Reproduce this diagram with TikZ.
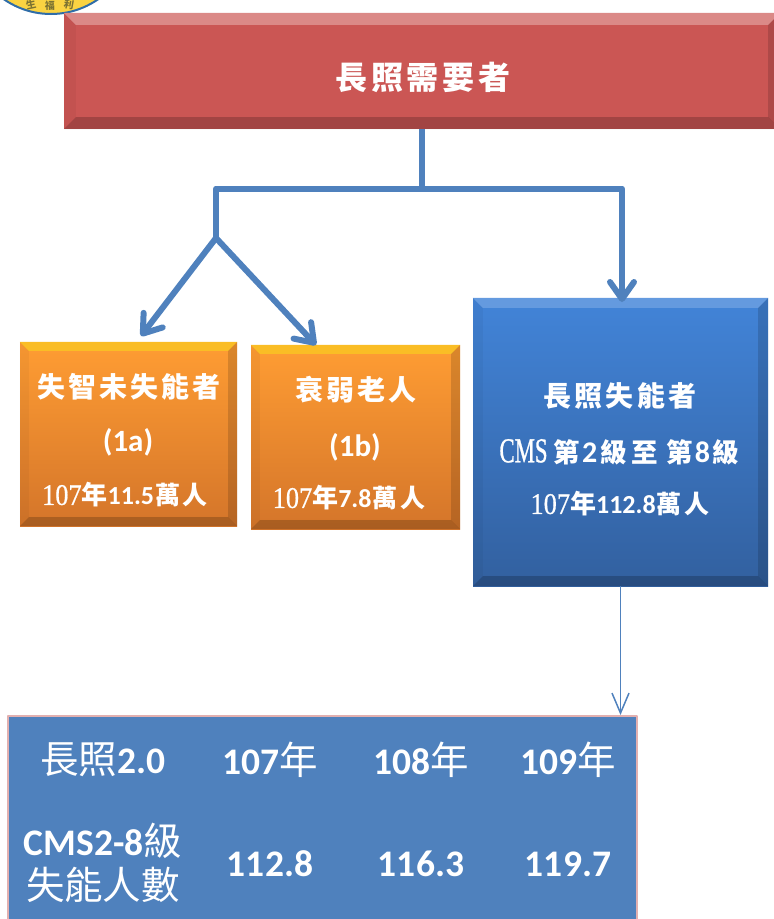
\documentclass[tikz,border=0pt]{standalone}
\usepackage{fontspec}
\setmainfont{Carlito}
\newfontfamily\cjkwide[LetterSpace=11]{Noto Sans CJK TC}
\newfontfamily\cjk{Noto Sans CJK TC}
\newfontfamily\numf[FakeStretch=.88,FakeBold=.6]{Liberation Serif}
\newfontfamily\cmsf[FakeStretch=.65,FakeBold=.8]{Liberation Serif}
\usetikzlibrary{arrows.meta}
\definecolor{linkblue}{HTML}{4F81BD}
\definecolor{tabedge}{HTML}{E2B0B0}
\definecolor{emblemfill}{HTML}{FAD342}
\definecolor{emblemedge}{HTML}{2F6DA8}
\definecolor{emblemtext}{HTML}{7D7332}
\definecolor{redface}{HTML}{CB5654}
\definecolor{orangeA}{HTML}{FF9D33}
\definecolor{orangeB}{HTML}{D4752A}
\definecolor{blueA}{HTML}{4284D8}
\definecolor{blueB}{HTML}{32609F}
% trapezoid edges round a box: name, width, top colour
\newcommand{\bevel}[3]{
	\fill[#3] (#1.north west)--(#1.north east)--++(-#2,#2)--([shift={(#2,#2)}]#1.north west)--cycle;
	\fill[black,fill opacity=.04] (#1.north west)--(#1.south west)--++(#2,-#2)--([shift={(#2,#2)}]#1.north west)--cycle;
	\fill[black,fill opacity=.14] (#1.north east)--(#1.south east)--++(-#2,-#2)--([shift={(-#2,#2)}]#1.north east)--cycle;
	\fill[black,fill opacity=.2] (#1.south west)--(#1.south east)--++(-#2,-#2)--([shift={(#2,-#2)}]#1.south west)--cycle;
}
\tikzset{
	redbox/.style={inner sep=0,fill=redface},
	orangebox/.style={inner sep=0,top color=orangeA,bottom color=orangeB},
	bluebox/.style={inner sep=0,top color=blueA,bottom color=blueB},
	thick link/.style={draw=linkblue,line width=6pt},
	thin link/.style={draw=linkblue,line width=1.5pt},
	word/.style={text=white,inner sep=0},
	emblemword/.style={text=emblemtext,inner sep=0,font=\cjk\bfseries\fontsize{10}{10}\selectfont},
}
% one "107年 ... 萬人" line of a box
\newcommand{\countline}[1]{{\numf\mdseries\fontsize{30}{30}\selectfont 107}{\cjk\bfseries\fontsize{26}{26}\selectfont 年}{\bfseries\fontsize{26}{26}\selectfont #1}\hspace{1pt}{\cjkwide\bfseries\fontsize{25}{25}\selectfont 萬人}}
\begin{document}
\begin{tikzpicture}[x=1pt,y=-1pt,line join=round,>={Straight Barb[length=17pt,width=24pt,round]}]
	\useasboundingbox (0,0) rectangle (774,919);
	% emblem in the corner
	\begin{scope}
	\clip (0,0) rectangle (110,20);
	\filldraw[fill=emblemfill,draw=emblemedge,line width=2pt] (51,-68.6) circle (82.6);
	\node[emblemword,rotate=12] (embB) at (31,5) {生};
	\node[emblemword] (embC) at (50,5.5) {福};
	\node[emblemword,rotate=-10] (embD) at (69,5) {利};
	\end{scope}
	% boxes
	\node[redbox,minimum width=716pt,minimum height=116pt] (need) at (422,71) {};
	\bevel{need}{12}{white!30!redface}
	\node[orangebox,minimum width=217pt,minimum height=184pt] (boxa) at (128.5,434) {};
	\bevel{boxa}{9}{yellow!35!orangeA}
	\node[orangebox,minimum width=209pt,minimum height=184pt] (boxb) at (355.5,437) {};
	\bevel{boxb}{9}{yellow!35!orangeA}
	\node[bluebox,minimum width=295pt,minimum height=288pt] (boxc) at (620.5,442) {};
	\bevel{boxc}{10}{white!18!blueA}
	\node[inner sep=0,draw=tabedge,line width=2pt,fill=linkblue,minimum width=629pt,minimum height=260pt] (tab) at (322.5,846) {};
	% box texts
	\node[word,font=\cjkwide\bfseries\fontsize{32}{32}\selectfont] (needT) at (423,77) {長照需要者};
	\node[word,font=\cjkwide\bfseries\fontsize{28}{28}\selectfont] (a1) at (129,387) {失智未失能者};
	\node[word,font=\fontsize{31}{31}\selectfont\bfseries] (a2) at (128,442) {(1a)};
	\node[word] (a3) at (125,495) {\countline{11.5}};
	\node[word,font=\cjkwide\bfseries\fontsize{28}{28}\selectfont] (b1) at (356,390) {衰弱老人};
	\node[word,font=\fontsize{31}{31}\selectfont\bfseries] (b2) at (355,447) {(1b)};
	\node[word] (b3) at (349,498) {\countline{7.8}};
	\node[word,font=\cjkwide\bfseries\fontsize{28}{28}\selectfont] (c1) at (620,396) {長照失能者};
	\node[word,font=\bfseries] (c2) at (619.5,452) {{\cmsf\mdseries\fontsize{35}{35}\selectfont CMS}\hspace{6pt}{\cjk\fontsize{26.5}{26.5}\selectfont 第\hspace{2pt}{\rmfamily\fontsize{30}{30}\selectfont 2}\hspace{3pt}級\hspace{5pt}至\hspace{8pt}第\hspace{2pt}{\rmfamily\fontsize{30}{30}\selectfont 8}\hspace{3pt}級}};
	\node[word] (c3) at (620,504) {\countline{112.8}};
	% table texts
	\def\tabfont{\fontsize{37.5}{37.5}\selectfont\bfseries}
	\def\tabcjk{\cjk\mdseries\fontsize{38.5}{38.5}\selectfont}
	\node[word,font=\tabfont] (t11) at (103,760) {{\tabcjk 長照}2.0};
	\node[word,font=\tabfont] (t12) at (270,760) {107{\tabcjk 年}};
	\node[word,font=\tabfont] (t13) at (421,760) {108{\tabcjk 年}};
	\node[word,font=\tabfont] (t14) at (568,760) {109{\tabcjk 年}};
	\node[word,font=\tabfont] (t21a) at (103,841) {CMS2-8{\tabcjk 級}};
	\node[word,font=\tabcjk] (t21b) at (103,885) {失能人數};
	\node[word,font=\tabfont] (t22) at (270,864) {112.8};
	\node[word,font=\tabfont] (t23) at (421,864) {116.3};
	\node[word,font=\tabfont] (t24) at (568,864) {119.7};
	% links
	\coordinate (bus) at (need.south |- 0,188.5);
	\coordinate (busL) at (216,188.5);
	\coordinate (busR) at (622,188.5);
	\coordinate (split) at (216,238);
	\coordinate (tipA) at (141,336);
	\coordinate (tipB) at (316,345);
	\coordinate (tipC) at (622,302);
	\draw[thick link] (need.south)--(bus);
	\draw[thick link,->] (split)--(busL)--(busR)--(tipC);
	\draw[thick link,->] (split)--(tipA);
	\draw[thick link,->] (split)--(tipB);
	\draw[thin link,->,>={Straight Barb[length=20pt,width=17pt]}] (boxc.south)--(boxc.south |- tab.north);
\end{tikzpicture}
\end{document}
